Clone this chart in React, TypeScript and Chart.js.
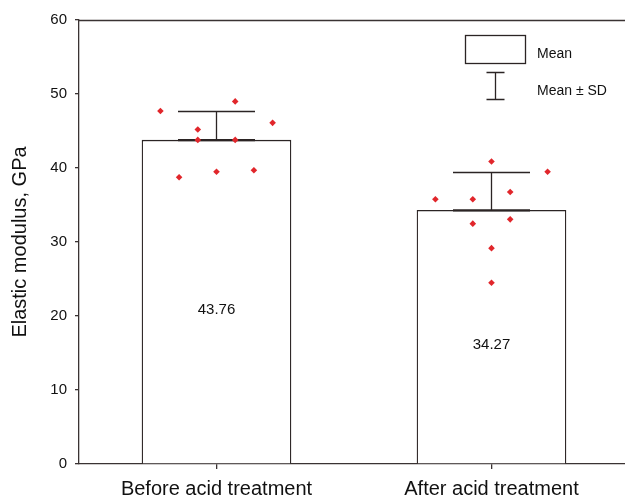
import React, { useEffect, useRef } from 'react';
import { Chart, registerables } from 'chart.js';

Chart.register(...registerables);

// ---- data ----
const categories = ['Before acid treatment', 'After acid treatment'];
const means = [43.76, 34.27];
const sds = [3.98, 5.25];
const meanLabels = ['43.76', '34.27'];
const beforeValues = [47.7, 38.75, 45.2, 43.8, 39.5, 49.0, 43.8, 39.7, 46.1];
const beforeSlots = [-3, -2, -1, -1, 0, 1, 1, 2, 3];
const afterValues = [35.77, 35.77, 32.48, 40.88, 29.17, 24.5, 36.76, 33.06, 39.5];
const afterSlots = [-3, -1, -1, 0, 0, 0, 1, 1, 3];
const yTickValues = [0, 10, 20, 30, 40, 50, 60];
const yTitle = 'Elastic modulus, GPa';
const legendLabels = ['Mean', 'Mean ± SD'];

// ---- style ----
const FONT = "'Liberation Sans', Arial, Helvetica, sans-serif";
const AXIS = '#3a3333';
const INK = '#2b2424';
const TEXT = '#111111';
const RED = '#e1262b';
const SLOT_STEP = 0.068;
const X_MAX = 1.9855;

const groups = [
  { values: beforeValues, slots: beforeSlots },
  { values: afterValues, slots: afterSlots },
];

const errorBarPlugin = {
  id: 'errorBars',
  afterDatasetDraw(chart: any, args: any) {
    if (args.index !== 0) return;
    const { ctx, scales } = chart;
    const x = scales.x;
    const y = scales.y;
    ctx.save();
    ctx.strokeStyle = INK;
    means.forEach((m, i) => {
      const px = Math.round(x.getPixelForValue(i + 0.5)) + 0.5;
      const yTop = Math.round(y.getPixelForValue(m + sds[i])) + 0.5;
      const yMean = y.getPixelForValue(m);
      const half = 38.5;
      ctx.lineWidth = 1.3;
      ctx.beginPath();
      ctx.moveTo(px, yMean);
      ctx.lineTo(px, yTop);
      ctx.moveTo(px - half, yTop);
      ctx.lineTo(px + half, yTop);
      ctx.stroke();
      ctx.lineWidth = 2.2;
      ctx.beginPath();
      ctx.moveTo(px - half, yMean);
      ctx.lineTo(px + half, yMean);
      ctx.stroke();
    });
    ctx.restore();
  },
};

const labelsPlugin = {
  id: 'barLabels',
  afterDatasetsDraw(chart: any) {
    const { ctx, scales } = chart;
    const x = scales.x;
    const y = scales.y;
    ctx.save();
    ctx.fillStyle = TEXT;
    ctx.font = `15px ${FONT}`;
    ctx.textAlign = 'center';
    ctx.textBaseline = 'top';
    means.forEach((m, i) => {
      ctx.fillText(meanLabels[i], x.getPixelForValue(i + 0.5), y.getPixelForValue(m / 2));
    });
    ctx.restore();
  },
};

const frameLegendPlugin = {
  id: 'frameLegend',
  afterDraw(chart: any) {
    const { ctx, chartArea } = chart;
    ctx.save();
    // top frame line
    ctx.strokeStyle = AXIS;
    ctx.lineWidth = 1.3;
    ctx.beginPath();
    ctx.moveTo(chartArea.left, Math.round(chartArea.top) + 0.5);
    ctx.lineTo(chart.width, Math.round(chartArea.top) + 0.5);
    ctx.stroke();
    // legend
    ctx.strokeStyle = INK;
    ctx.lineWidth = 1.3;
    ctx.strokeRect(465.5, 35.5, 60, 28);
    ctx.beginPath();
    ctx.moveTo(495.5, 72.5);
    ctx.lineTo(495.5, 100);
    ctx.moveTo(486.5, 72.5);
    ctx.lineTo(504.5, 72.5);
    ctx.moveTo(486.5, 99.5);
    ctx.lineTo(504.5, 99.5);
    ctx.stroke();
    ctx.fillStyle = TEXT;
    ctx.font = `14px ${FONT}`;
    ctx.textAlign = 'left';
    ctx.textBaseline = 'middle';
    ctx.fillText(legendLabels[0], 537, 54);
    ctx.fillText(legendLabels[1], 537, 91);
    ctx.restore();
  },
};

export default function App() {
  const ref = useRef<HTMLCanvasElement | null>(null);

  useEffect(() => {
    if (!ref.current) return;
    const barData = means.map((m, i) => ({ x: i + 0.5, y: m }));
    const pointData: { x: number; y: number }[] = [];
    groups.forEach((g, i) => {
      g.values.forEach((v, j) => {
        pointData.push({ x: i + 0.5 + g.slots[j] * SLOT_STEP, y: v });
      });
    });

    const chart = new Chart(ref.current, {
      type: 'bar',
      data: {
        datasets: [
          {
            type: 'bar',
            data: barData as any,
            backgroundColor: '#ffffff',
            borderColor: INK,
            borderWidth: 1.3,
            barThickness: 149,
            order: 2,
          } as any,
          {
            type: 'scatter',
            data: pointData as any,
            pointStyle: 'rectRot',
            pointRadius: 3.3,
            backgroundColor: RED,
            borderColor: RED,
            borderWidth: 0,
            order: 1,
          } as any,
        ],
      },
      plugins: [errorBarPlugin, labelsPlugin, frameLegendPlugin],
      options: {
        animation: false,
        responsive: false,
        devicePixelRatio: 1,
        layout: { autoPadding: false, padding: { top: 20, right: 0, left: 0, bottom: 0 } },
        plugins: {
          legend: { display: false },
          tooltip: { enabled: false },
        },
        scales: {
          x: {
            type: 'linear',
            min: 0,
            max: X_MAX,
            offset: false,
            grid: {
              offset: false,
              drawOnChartArea: false,
              drawTicks: true,
              tickLength: 5,
              color: AXIS,
              lineWidth: 1.3,
            },
            border: { display: true, color: AXIS, width: 1.3 },
            ticks: {
              autoSkip: false,
              maxRotation: 0,
              padding: 8,
              color: TEXT,
              font: { size: 20, family: FONT },
              callback: (_v: any, idx: number) => categories[idx],
            },
            afterBuildTicks: (s: any) => {
              s.ticks = categories.map((_c, i) => ({ value: i + 0.5 }));
            },
            afterFit: (s: any) => {
              s.height = 33;
            },
          } as any,
          y: {
            type: 'linear',
            min: 0,
            max: 60,
            grid: {
              drawOnChartArea: false,
              drawTicks: true,
              tickLength: 4,
              color: AXIS,
              lineWidth: 1.3,
            },
            border: { display: true, color: AXIS, width: 1.3 },
            ticks: {
              padding: 8,
              color: TEXT,
              font: { size: 15, family: FONT },
              autoSkip: false,
            },
            afterBuildTicks: (s: any) => {
              s.ticks = yTickValues.map((v) => ({ value: v }));
            },
            title: {
              display: true,
              text: yTitle,
              color: TEXT,
              font: { size: 20, family: FONT },
              padding: { top: 8, bottom: 0 },
            },
            afterFit: (s: any) => {
              s.width = 79;
            },
          } as any,
        },
      },
    });
    return () => chart.destroy();
  }, []);

  return (
    <div style={{ position: 'fixed', left: 0, top: 0, width: 625, height: 497, background: '#fff' }}>
      <canvas ref={ref} width={625} height={497} style={{ display: 'block' }} />
    </div>
  );
}
